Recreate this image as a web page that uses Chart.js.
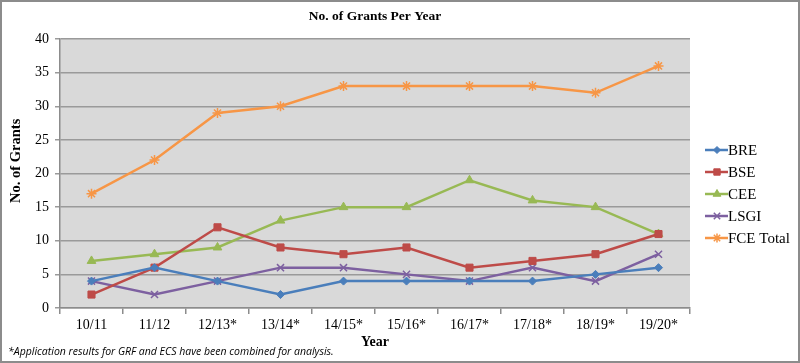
<!DOCTYPE html>
<html>
<head>
<meta charset="utf-8">
<script src="https://cdn.jsdelivr.net/npm/chart.js@4"></script>
<style>
  html, body { margin: 0; padding: 0; background: #fff; }
  #wrap { width: 800px; height: 363px; }
</style>
</head>
<body>
<div id="wrap"><canvas id="grantsChart" width="800" height="363"></canvas></div>
<script>
// data
const years = ['10/11', '11/12', '12/13*', '13/14*', '14/15*', '15/16*', '16/17*', '17/18*', '18/19*', '19/20*']
const bre = [4, 6, 4, 2, 4, 4, 4, 4, 5, 6]
const bse = [2, 6, 12, 9, 8, 9, 6, 7, 8, 11]
const cee = [7, 8, 9, 13, 15, 15, 19, 16, 15, 11]
const lsgi = [4, 2, 4, 6, 6, 5, 4, 6, 4, 8]
const fceTotal = [17, 22, 29, 30, 33, 33, 33, 33, 32, 36]
const yTicks = [0, 5, 10, 15, 20, 25, 30, 35, 40]

const serif = "'Liberation Serif', 'Times New Roman', serif"

const mkSet = (label, data, color, style, radius) => ({
  label: label,
  data: data,
  borderColor: color,
  backgroundColor: color,
  pointStyle: style,
  pointRadius: radius,
  pointBorderWidth: style === 'star' || style === 'crossRot' ? 1.5 : 1,
  borderWidth: 2.5,
  tension: 0,
})

const chartBg = {
  id: 'chartBg',
  beforeDraw(chart) {
    const { ctx, chartArea: a } = chart
    ctx.save()
    ctx.fillStyle = '#fff'
    ctx.fillRect(0, 0, chart.width, chart.height)
    ctx.fillStyle = '#d9d9d9'
    ctx.fillRect(a.left, a.top, a.right - a.left, a.bottom - a.top)
    ctx.restore()
  },
  afterDraw(chart) {
    const { ctx, chartArea: a } = chart
    ctx.save()
    // frame
    ctx.strokeStyle = '#8c8c8c'
    ctx.lineWidth = 2
    ctx.strokeRect(1, 1, chart.width - 2, chart.height - 2)
    // title
    ctx.fillStyle = '#000'
    ctx.font = 'bold 13.5px ' + serif
    ctx.textAlign = 'center'
    ctx.textBaseline = 'middle'
    ctx.fillText('No. of Grants Per Year', (a.left + a.right) / 2, 17)
    // footnote
    ctx.font = 'italic 10.5px "Open Sans", sans-serif'
    ctx.textAlign = 'left'
    ctx.fillText('*Application results for GRF and ECS have been combined for analysis.', 8, 352)
    // legend
    const x0 = 705
    let y = 150
    chart.data.datasets.forEach((ds) => {
      ctx.strokeStyle = ds.borderColor
      ctx.fillStyle = ds.backgroundColor
      ctx.lineWidth = 2.5
      ctx.beginPath()
      ctx.moveTo(x0, y)
      ctx.lineTo(x0 + 23, y)
      ctx.stroke()
      ctx.lineWidth = ds.pointBorderWidth
      Chart.helpers.drawPoint(ctx, {
        pointStyle: ds.pointStyle,
        radius: ds.pointRadius - 0.5,
        borderWidth: ds.pointBorderWidth,
        rotation: 0,
      }, x0 + 12, y)
      ctx.fillStyle = '#000'
      ctx.font = '15px ' + serif
      ctx.textAlign = 'left'
      ctx.fillText(ds.label, x0 + 23, y + 1)
      y += 22
    })
    ctx.restore()
  },
}

const chart = new Chart(document.getElementById('grantsChart'), {
  type: 'line',
  data: {
    labels: years,
    datasets: [
      mkSet('BRE', bre, '#4a7ebb', 'rectRot', 4),
      mkSet('BSE', bse, '#be4b48', 'rect', 5),
      mkSet('CEE', cee, '#98b954', 'triangle', 5),
      mkSet('LSGI', lsgi, '#7d60a0', 'crossRot', 5),
      mkSet('FCE Total', fceTotal, '#f79646', 'star', 5),
    ],
  },
  options: {
    responsive: false,
    animation: false,
    layout: { padding: { top: 39, left: 8, right: 110, bottom: 0 } },
    plugins: {
      legend: { display: false },
      title: { display: false },
      tooltip: { enabled: false },
    },
    scales: {
      x: {
        offset: true,
        grid: { offset: true, drawOnChartArea: false, drawTicks: true, tickLength: 6, color: '#8c8c8c', lineWidth: 1.5 },
        border: { color: '#8c8c8c', width: 1.5 },
        ticks: { color: '#000', font: { family: serif, size: 14 }, padding: 3, maxRotation: 0, autoSkip: false },
        title: { display: true, text: 'Year', color: '#000', font: { family: serif, size: 14, weight: 'bold' }, padding: { top: 0, bottom: 12 } },
        afterFit(scale) { scale.height = 55 },
      },
      y: {
        min: 0,
        max: 40,
        afterBuildTicks(scale) { scale.ticks = yTicks.map((v) => ({ value: v })) },
        grid: { color: '#9a9a9a', lineWidth: 1.5, tickLength: 5 },
        border: { color: '#8c8c8c', width: 1.5 },
        ticks: { color: '#000', font: { family: serif, size: 14 }, padding: 6 },
        title: { display: true, text: '       No. of Grants', color: '#000', font: { family: serif, size: 14.5, weight: 'bold' }, padding: 0 },
        afterFit(scale) { scale.width = 52 },
      },
    },
  },
  plugins: [chartBg],
})
</script>
</body>
</html>
